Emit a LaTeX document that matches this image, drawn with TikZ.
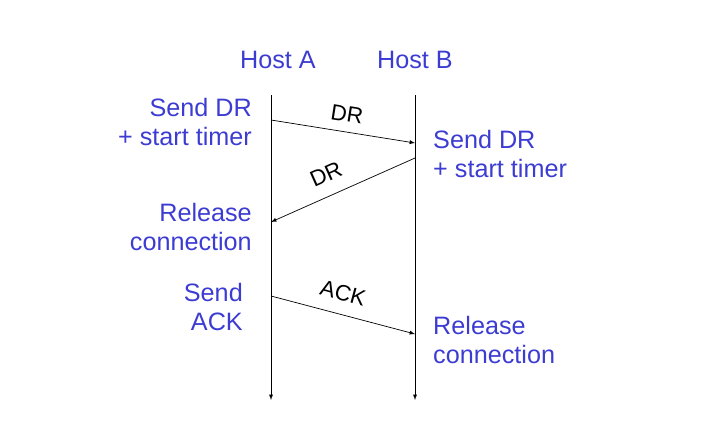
\documentclass[tikz,border=0pt]{standalone}
\usepackage{fontspec}
\setmainfont{Liberation Sans}
\definecolor{lblue}{RGB}{60,60,210}
\begin{document}
\begin{tikzpicture}[x=0.03cm,y=-0.03cm,
  lbl/.style={text=lblue, font=\fontsize{21.5}{25.5}\selectfont, inner sep=0pt},
  msg/.style={font=\fontsize{19}{22}\selectfont, inner sep=0pt},
  arr/.style={-latex, line width=0.6pt}]
\useasboundingbox (0,0) rectangle (707,442);
\coordinate (a0) at (271,95); \coordinate (a1) at (271,400);
\coordinate (b0) at (415,95); \coordinate (b1) at (415,400);
\draw[arr] (a0) -- (a1);
\draw[arr] (b0) -- (b1);
\node[lbl] (ha) at (278,60) {Host A};
\node[lbl] (hb) at (415,60) {Host B};
\coordinate (m1s) at (271,120); \coordinate (m1e) at (415,143);
\coordinate (m2s) at (415,158); \coordinate (m2e) at (271,222);
\coordinate (m3s) at (271,296); \coordinate (m3e) at (415,334);
\draw[arr] (m1s) -- (m1e);
\draw[arr] (m2s) -- (m2e);
\draw[arr] (m3s) -- (m3e);
\node[msg, rotate=-9] (l1) at (347,114) {DR};
\node[msg, rotate=24] (l2) at (326,174) {DR};
\node[msg, rotate=-15] (l3) at (343,293) {ACK};
\node[lbl, anchor=east, align=right] (t1) at (252,122) {Send DR\\+ start timer};
\node[lbl, anchor=west, align=left] (t2) at (433,154) {Send DR\\+ start timer};
\node[lbl, anchor=east, align=right] (t3) at (252,227) {Release\\connection};
\node[lbl, anchor=east, align=right] (t4) at (243,307) {Send\\ACK};
\node[lbl, anchor=west, align=left] (t5) at (433,340) {Release\\connection};
\end{tikzpicture}
\end{document}
